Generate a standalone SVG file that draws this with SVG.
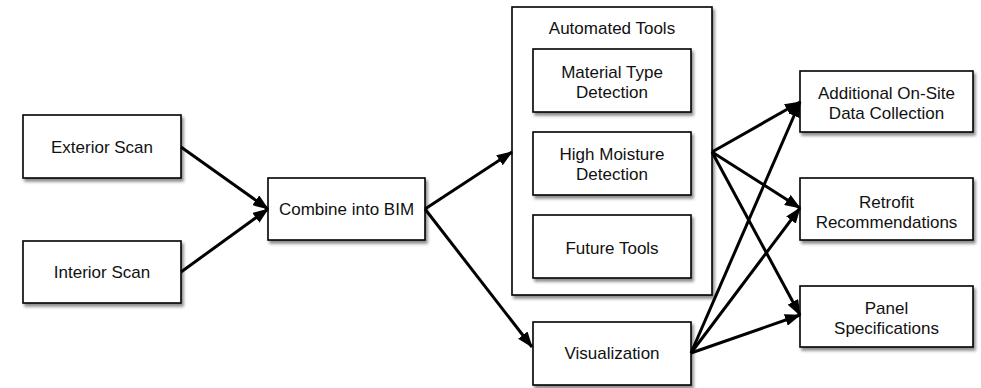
<svg xmlns="http://www.w3.org/2000/svg" width="981" height="388" viewBox="0 0 981 388">
<style>
.box{fill:#fff;stroke:#000;stroke-width:1.6;filter:url(#sh)}
.t{font-family:"Liberation Sans",Arial,Helvetica,sans-serif;font-size:17px;fill:#111;text-anchor:middle}
.c{stroke:#000;stroke-width:3;fill:none;marker-end:url(#ah)}
</style>
<defs>
<filter id="sh" x="-10%" y="-10%" width="125%" height="130%">
<feDropShadow dx="2" dy="3" stdDeviation="1.5" flood-color="#000" flood-opacity="0.45"/>
</filter>
<marker id="ah" markerUnits="userSpaceOnUse" markerWidth="16" markerHeight="12" viewBox="0 0 16 12" refX="15" refY="6" orient="auto">
<path d="M0,0 L16,6 L0,12 z" fill="#000"/>
</marker>
</defs>
<rect width="981" height="388" fill="#fff"/>
<g id="exterior-scan"><rect class="box" x="23" y="115" width="158" height="63"/><text class="t" x="102" y="152.5">Exterior Scan</text></g>
<g id="interior-scan"><rect class="box" x="23" y="241" width="158" height="62"/><text class="t" x="102" y="278">Interior Scan</text></g>
<g id="combine-bim"><rect class="box" x="268" y="178" width="157" height="62"/><text class="t" x="346.5" y="215">Combine into BIM</text></g>
<g id="automated-tools"><rect class="box" x="512" y="7" width="200" height="288"/><text class="t" x="612" y="33.7">Automated Tools</text>
<g id="material-type"><rect class="box" x="533" y="49" width="158" height="63"/><text class="t" x="612" y="77.7">Material Type</text><text class="t" x="612" y="97.7">Detection</text></g>
<g id="high-moisture"><rect class="box" x="533" y="132" width="158" height="63"/><text class="t" x="612" y="160">High Moisture</text><text class="t" x="612" y="180">Detection</text></g>
<g id="future-tools"><rect class="box" x="533" y="215" width="158" height="63"/><text class="t" x="612" y="254">Future Tools</text></g>
</g>
<g id="visualization"><rect class="box" x="533" y="322" width="158" height="63"/><text class="t" x="612" y="359">Visualization</text></g>
<g id="additional"><rect class="box" x="800" y="71" width="173" height="61"/><text class="t" x="886.5" y="99">Additional On-Site</text><text class="t" x="886.5" y="119">Data Collection</text></g>
<g id="retrofit"><rect class="box" x="800" y="178" width="173" height="62"/><text class="t" x="886.5" y="207.5">Retrofit</text><text class="t" x="886.5" y="227.5">Recommendations</text></g>
<g id="panel"><rect class="box" x="800" y="286" width="173" height="61"/><text class="t" x="886.5" y="314">Panel</text><text class="t" x="886.5" y="334">Specifications</text></g>
<g id="connectors">
<line class="c" x1="181" y1="147" x2="268" y2="209"/>
<line class="c" x1="181" y1="272" x2="268" y2="209"/>
<line class="c" x1="425" y1="209" x2="512" y2="152"/>
<line class="c" x1="425" y1="209" x2="532" y2="347"/>
<line class="c" x1="712" y1="152" x2="800" y2="102"/>
<line class="c" x1="712" y1="152" x2="800" y2="208"/>
<line class="c" x1="712" y1="152" x2="800" y2="315"/>
<line class="c" x1="691" y1="353" x2="800" y2="102"/>
<line class="c" x1="691" y1="353" x2="800" y2="208"/>
<line class="c" x1="691" y1="353" x2="800" y2="315"/>
</g>
</svg>
